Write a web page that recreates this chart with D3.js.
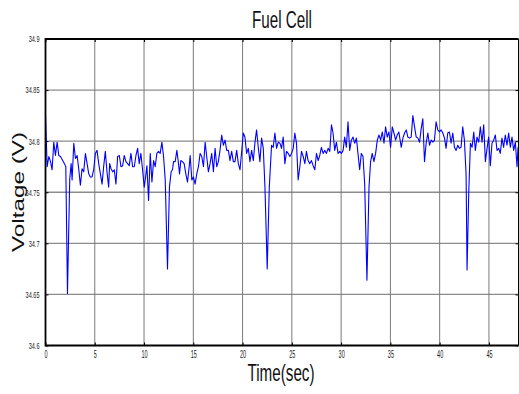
<!DOCTYPE html>
<html><head><meta charset="utf-8">
<script src="https://cdn.jsdelivr.net/npm/d3@7"></script>
<style>body{margin:0;background:#fff}svg{display:block}text{font-family:Arial,"Liberation Sans",Helvetica,sans-serif}</style>
</head><body>
<svg id="c" width="519" height="394"></svg>
<script>
const chartTitle = "Fuel Cell";
const xLabel = "Time(sec)";
const yLabel = "Voltage (V)";
const xTicks = [0, 5, 10, 15, 20, 25, 30, 35, 40, 45];
const yTicks = [34.6, 34.65, 34.7, 34.75, 34.8, 34.85, 34.9];
const yTickLabels = ["34.6", "34.65", "34.7", "34.75", "34.8", "34.85", "34.9"];
const xDomain = [0, 48];
const yDomain = [34.6, 34.9];

const timeSec = [
0.00,0.17,0.34,0.51,0.67,0.84,1.01,1.18,1.35,1.52,
1.69,1.92,2.06,2.23,2.46,2.60,2.70,2.87,3.04,3.21,
3.37,3.54,3.71,3.88,4.05,4.22,4.39,4.55,4.72,4.89,
5.06,5.23,5.40,5.57,5.74,5.90,6.07,6.24,6.41,6.51,
6.65,6.82,6.98,7.15,7.32,7.49,7.66,7.83,7.99,8.16,
8.33,8.50,8.67,8.84,9.01,9.18,9.35,9.51,9.68,9.85,
10.02,10.16,10.29,10.46,10.63,10.80,10.97,11.13,11.30,11.47,
11.64,11.81,11.98,12.15,12.38,12.58,12.75,12.89,12.99,13.16,
13.33,13.50,13.60,13.73,13.90,14.07,14.24,14.41,14.58,14.68,
14.85,15.01,15.18,15.35,15.52,15.69,15.86,16.03,16.20,16.36,
16.53,16.70,16.87,17.04,17.21,17.38,17.54,17.71,17.88,18.05,
18.22,18.39,18.56,18.72,18.89,19.06,19.23,19.40,19.57,19.74,
19.91,20.07,20.24,20.41,20.58,20.75,20.92,21.09,21.26,21.42,
21.59,21.76,21.93,22.10,22.27,22.50,22.71,22.94,23.11,23.28,
23.45,23.62,23.79,
23.95,24.12,24.29,24.46,24.63,24.80,24.97,25.14,25.30,25.47,
25.64,25.81,25.98,26.15,26.32,26.48,26.65,26.82,26.99,27.16,
27.33,27.50,27.67,27.83,28.00,28.17,28.34,28.51,28.68,28.85,
29.02,29.18,29.35,29.52,29.69,29.86,30.03,30.20,30.36,30.53,
30.70,30.87,31.04,31.21,31.38,31.55,31.71,31.88,32.05,32.22,
32.39,32.62,32.83,32.99,33.16,33.33,33.50,33.67,33.84,34.01,
34.18,34.35,34.51,34.68,34.85,35.02,35.19,35.36,35.53,35.69,
35.86,
36.10,36.27,36.44,36.61,36.77,36.94,37.11,37.28,37.45,37.62,
37.79,37.96,38.12,38.29,38.46,38.63,38.80,38.97,39.14,39.31,
39.47,39.64,39.81,39.98,40.15,40.32,40.49,40.65,40.82,40.99,
41.16,41.33,41.50,41.67,41.84,42.00,42.17,42.34,42.51,42.68,
42.78,42.95,43.12,43.29,43.46,43.62,43.79,43.96,44.13,44.30,
44.47,44.64,44.81,44.97,45.14,45.31,45.48,45.65,45.82,45.99,
46.15,46.32,46.49,46.66,46.83,47.00,47.17,47.34,47.51,47.68,
47.85,47.95
];

const voltage = [
34.825,34.775,34.785,34.780,34.772,34.799,34.786,34.799,34.786,34.785,
34.782,34.778,34.775,34.651,34.763,34.778,34.762,34.798,34.783,34.786,
34.773,34.757,34.773,34.770,34.788,34.778,34.768,34.765,34.765,34.772,
34.788,34.791,34.778,34.768,34.758,34.775,34.790,34.770,34.755,34.778,
34.773,34.770,34.772,34.758,34.785,34.786,34.775,34.776,34.786,34.780,
34.778,34.776,34.788,34.775,34.775,34.786,34.793,34.778,34.788,34.772,
34.755,34.765,34.776,34.742,34.788,34.760,34.781,34.775,34.788,34.790,
34.788,34.799,34.785,34.762,34.675,34.755,34.770,34.772,34.780,34.780,
34.791,34.778,34.768,34.781,34.780,34.778,34.768,34.760,34.775,34.786,
34.762,34.765,34.758,34.768,34.775,34.788,34.785,34.775,34.799,34.785,
34.770,34.778,34.788,34.770,34.793,34.775,34.780,34.791,34.806,34.796,
34.801,34.791,34.791,34.781,34.790,34.780,34.780,34.791,34.778,34.772,
34.790,34.808,34.804,34.788,34.793,34.780,34.791,34.781,34.799,34.811,
34.794,34.780,34.803,34.793,34.755,34.675,34.755,34.796,34.794,34.808,
34.793,34.799,34.798,
34.793,34.804,34.778,34.790,34.788,34.785,34.788,34.793,34.808,34.798,
34.762,34.775,34.790,34.785,34.778,34.790,34.781,34.778,34.781,34.776,
34.772,34.788,34.781,34.786,34.794,34.788,34.791,34.788,34.793,34.790,
34.816,34.808,34.791,34.799,34.788,34.790,34.788,34.791,34.804,34.794,
34.819,34.791,34.801,34.804,34.798,34.803,34.788,34.772,34.788,34.785,
34.758,34.664,34.755,34.780,34.788,34.780,34.788,34.801,34.806,34.801,
34.809,34.798,34.814,34.804,34.809,34.794,34.814,34.808,34.801,34.806,
34.809,
34.794,34.803,34.808,34.811,34.804,34.803,34.804,34.825,34.814,34.804,
34.803,34.799,34.812,34.822,34.780,34.798,34.808,34.796,34.801,34.799,
34.801,34.819,34.811,34.809,34.811,34.808,34.803,34.793,34.808,34.809,
34.798,34.808,34.794,34.791,34.796,34.793,34.794,34.814,34.801,34.768,
34.674,34.749,34.798,34.794,34.809,34.791,34.804,34.799,34.814,34.799,
34.816,34.780,34.793,34.804,34.776,34.798,34.801,34.806,34.791,34.793,
34.788,34.803,34.794,34.806,34.796,34.808,34.794,34.804,34.791,34.799,
34.775,34.794
];

const svg = d3.select("#c");
const L = 45.5, R = 518.5, T = 39, B = 345.5;
const x = d3.scaleLinear().domain(xDomain).range([L, R]);
const y = d3.scaleLinear().domain(yDomain).range([B, T]);

function squeeze(sel, factor) {
  sel.each(function () {
    const w = this.getComputedTextLength();
    this.setAttribute("textLength", w * factor);
    this.setAttribute("lengthAdjust", "spacingAndGlyphs");
  });
}

svg.append("rect").attr("width", 519).attr("height", 394).attr("fill", "#fff");

// grid
svg.append("g").selectAll("line").data(yTicks.slice(1, -1)).join("line")
  .attr("x1", L).attr("x2", R).attr("y1", d => y(d)).attr("y2", d => y(d))
  .attr("stroke", "#8c8c8c").attr("stroke-width", 1.4);
svg.append("g").selectAll("line").data(xTicks.slice(1)).join("line")
  .attr("x1", d => x(d)).attr("x2", d => x(d)).attr("y1", T).attr("y2", B)
  .attr("stroke", "#7a7a7a").attr("stroke-width", 1);

// axes
const xAxis = svg.append("g").attr("transform", `translate(0,${B})`)
  .call(d3.axisBottom(x).tickValues(xTicks).tickSize(-3).tickPadding(5).tickFormat(d3.format("d")));
const xTop = svg.append("g").attr("transform", `translate(0,${T})`)
  .call(d3.axisTop(x).tickValues(xTicks).tickSize(-3).tickFormat(""));
const yAxis = svg.append("g").attr("transform", `translate(${L},0)`)
  .call(d3.axisLeft(y).tickValues(yTicks).tickSize(-3).tickPadding(6).tickFormat((d, i) => yTickLabels[i]));
const yRight = svg.append("g").attr("transform", `translate(${R},0)`)
  .call(d3.axisRight(y).tickValues(yTicks).tickSize(-3).tickFormat(""));
[xAxis, xTop, yAxis, yRight].forEach(g => {
  g.select(".domain").remove();
  g.selectAll(".tick line").attr("stroke", "#000").attr("stroke-width", 1);
});
xAxis.selectAll("text").attr("font-size", 10).attr("fill", "#222").call(squeeze, 0.55);
yAxis.selectAll("text").attr("font-size", 9).attr("fill", "#222").call(squeeze, 0.62);

// data line
const pts = timeSec.map((t, i) => [t, voltage[i]]);
svg.append("path").datum(pts)
  .attr("fill", "none").attr("stroke", "#0000ff").attr("stroke-width", 1.1)
  .attr("stroke-linejoin", "round")
  .attr("d", d3.line().x(d => x(d[0])).y(d => y(d[1])));

// frame
svg.append("path")
  .attr("d", `M${R},${T}H${L}V${B}H${R}`)
  .attr("fill", "none").attr("stroke", "#000").attr("stroke-width", 1.8);
svg.append("line").attr("x1", R).attr("x2", R).attr("y1", T).attr("y2", B)
  .attr("stroke", "#000").attr("stroke-width", 1);

// labels
svg.append("text").text(chartTitle).attr("x", 282).attr("y", 28)
  .attr("text-anchor", "middle").attr("font-size", 23).attr("fill", "#111")
  .attr("textLength", 60).attr("lengthAdjust", "spacingAndGlyphs");
svg.append("text").text(xLabel).attr("x", 281).attr("y", 381)
  .attr("text-anchor", "middle").attr("font-size", 24).attr("fill", "#111")
  .attr("textLength", 67).attr("lengthAdjust", "spacingAndGlyphs");
svg.append("text").text(yLabel)
  .attr("transform", "translate(24,192) rotate(-90)")
  .attr("text-anchor", "middle").attr("font-size", 17).attr("fill", "#111")
  .attr("textLength", 120).attr("lengthAdjust", "spacingAndGlyphs");
</script>
</body></html>
